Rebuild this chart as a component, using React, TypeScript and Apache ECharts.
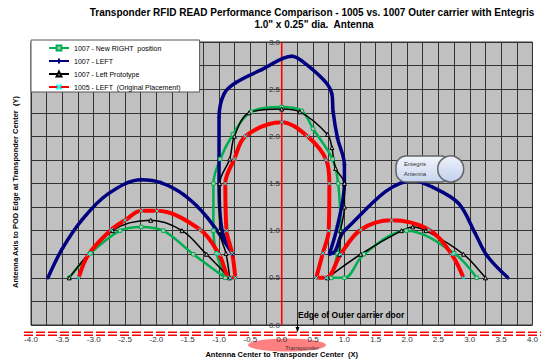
import React, { useEffect, useRef } from "react";
import * as echarts from "echarts";

const FONT = '"Liberation Sans", Arial, sans-serif';

const seriesNames = [
  "1007 - New RIGHT  position",
  "1007 - LEFT",
  "1007 - Left Prototype",
  "1005 - LEFT  (Original Placement)",
];

const newRightPosition: [number, number][] = [
  [-3.39, 0.5], [-3.05, 0.76], [-2.58, 1.0], [-2.24, 1.04], [-1.89, 1.0], [-1.41, 0.75], [-0.9, 0.5],
  [-1.04, 0.76], [-1.09, 1.0], [-1.09, 1.5], [-0.98, 1.76], [-0.78, 2.02], [-0.49, 2.26], [0, 2.31],
  [0.32, 2.27], [0.5, 2.08], [0.81, 1.76], [0.9, 1.5], [0.94, 1.0], [0.89, 0.76], [0.79, 0.5],
  [1.0, 0.5], [1.31, 0.75], [1.99, 1.0], [2.75, 0.76], [3.11, 0.5],
];

const left1007: [number, number][] = [
  [-3.73, 0.5], [-3.5, 0.81], [-3.18, 1.12], [-2.77, 1.39], [-2.24, 1.54], [-1.93, 1.51], [-1.56, 1.38],
  [-1.2, 1.15], [-0.78, 0.75], [-0.95, 1.0], [-1.0, 1.5], [-1.0, 2.2], [-0.92, 2.45], [-0.73, 2.57],
  [-0.31, 2.71], [0.16, 2.85], [0.32, 2.8], [0.68, 2.59], [0.8, 2.45], [0.82, 2.26], [0.89, 1.98],
  [1.0, 1.7], [1.0, 1.5], [0.89, 1.05], [0.76, 0.75], [0.85, 0.78], [1.0, 1.0], [2.09, 1.53],
  [2.41, 1.46], [2.82, 1.29], [3.08, 0.98], [3.27, 0.74], [3.61, 0.5],
];

const leftPrototype: [number, number][] = [
  [-3.39, 0.5], [-2.7, 1.0], [-2.09, 1.11], [-1.59, 1.0], [-1.2, 0.75], [-0.83, 0.5], [-0.89, 0.76],
  [-0.99, 1.0], [-0.99, 1.5], [-0.83, 1.76], [-0.755, 2.0], [-0.52, 2.25], [0, 2.29], [0.29, 2.26],
  [0.73, 2.02], [0.8, 1.88], [0.86, 1.66], [1.0, 1.5], [1.0, 1.25], [0.94, 1.0], [0.92, 0.75],
  [0.73, 0.5], [1.26, 0.75], [1.91, 1.0], [2.09, 1.04], [2.3, 1.0], [2.9, 0.75], [3.25, 0.5],
];

const originalPlacement: [number, number][] = [
  [-3.24, 0.5], [-3.08, 0.75], [-2.72, 1.01], [-2.5, 1.11], [-2.24, 1.21], [-1.99, 1.21], [-1.3, 1.01],
  [-1.0, 0.75], [-0.82, 0.5], [-0.74, 0.5], [-0.79, 0.76], [-0.88, 1.0], [-0.9, 1.5], [-0.755, 1.76],
  [-0.58, 2.0], [0, 2.15], [0.41, 2.0], [0.71, 1.75], [0.76, 1.5], [0.75, 1.0], [0.655, 0.76],
  [0.55, 0.5], [0.71, 0.5], [0.94, 0.75], [1.26, 1.01], [1.75, 1.11], [2.35, 1.01], [2.71, 0.75],
  [2.9, 0.5],
];

// vertical reference line at the transponder centre (x = 0)
const centerLine: [number, number][] = [[0, 0], [0, 3]];

const titleLines = [
  "Transponder RFID READ Performance Comparison - 1005 vs. 1007 Outer carrier with Entegris",
  '1.0" x 0.25" dia.  Antenna',
];

const xRange = [-4, 4];
const yRange = [0, 3];

const GRID_LEFT = 31;
const GRID_WIDTH = 510;

export default function App() {
  const ref = useRef<HTMLDivElement>(null);
  useEffect(() => {
    if (!ref.current) return;
    const chart = echarts.init(ref.current, undefined, { renderer: "svg" });
    const fmt = (v: number) => v.toFixed(1);
    const xPlus = "path://M5,0L5,10M0,5L10,5";
    const xCross = "path://M0,0L10,10M10,0L0,10";
    const yAxisOffset = -GRID_WIDTH * ((centerLine[0][0] - xRange[0]) / (xRange[1] - xRange[0]));
    const option: any = {
      animation: false,
      textStyle: { fontFamily: FONT },
      grid: {
        left: GRID_LEFT, right: 541 - GRID_LEFT - GRID_WIDTH, top: 42, bottom: 32,
        show: true, backgroundColor: "#c0c0c0", borderColor: "#333", borderWidth: 1,
      },
      xAxis: {
        type: "value", min: xRange[0], max: xRange[1], interval: 0.5, z: 1,
        axisLine: { show: false, onZero: false },
        axisTick: { show: false },
        axisLabel: { formatter: fmt, fontSize: 8, color: "#333", margin: 10, fontFamily: FONT },
        splitLine: { show: true, lineStyle: { color: "#333", width: 1 } },
        minorTick: { show: false, splitNumber: 2 },
        minorSplitLine: { show: true, lineStyle: { color: "#333", width: 1 } },
        name: "Antenna Center to Transponder Center  (X)",
        nameLocation: "middle", nameGap: 25,
        nameTextStyle: { fontSize: 7.5, fontWeight: "bold", color: "#000", fontFamily: FONT },
      },
      yAxis: {
        type: "value", min: yRange[0], max: yRange[1], interval: 0.5,
        position: "left", offset: yAxisOffset,
        axisLine: { show: false, onZero: false },
        axisTick: { show: false },
        axisLabel: { formatter: fmt, fontSize: 8, color: "#333", margin: 6, fontFamily: FONT },
        splitLine: { show: true, lineStyle: { color: "#333", width: 1 } },
        minorTick: { show: false, splitNumber: 2 },
        minorSplitLine: { show: true, lineStyle: { color: "#333", width: 1 } },
      },
      legend: {
        orient: "vertical", left: 31, top: 40,
        backgroundColor: "#fff", borderColor: "#555", borderWidth: 1,
        padding: [4.5, 19, 1.5, 17], itemWidth: 20, itemHeight: 6, itemGap: 6,
        textStyle: { fontSize: 7, color: "#000", fontFamily: FONT },
        data: seriesNames,
      },
      series: [
        {
          name: "x = 0", type: "line", data: centerLine, symbol: "none", silent: true,
          lineStyle: { color: "#ff0000", width: 1.6 }, itemStyle: { color: "#ff0000" },
        },
        {
          name: seriesNames[0], type: "line", data: newRightPosition, smooth: 0.35,
          symbol: "rect", symbolSize: 3.5,
          lineStyle: { color: "#00b050", width: 2.5 },
          itemStyle: { color: "#c0c0c0", borderColor: "#00b050", borderWidth: 1 },
        },
        {
          name: seriesNames[1], type: "line", data: left1007, smooth: 0.35,
          symbol: xPlus, symbolSize: 4,
          lineStyle: { color: "#000080", width: 3.5 },
          itemStyle: { color: "#000080", borderColor: "#000080", borderWidth: 1 },
        },
        {
          name: seriesNames[2], type: "line", data: leftPrototype, smooth: 0.35,
          symbol: "triangle", symbolSize: 4,
          lineStyle: { color: "#000000", width: 1.5 },
          itemStyle: { color: "#c0c0c0", borderColor: "#000000", borderWidth: 1 },
        },
        {
          name: seriesNames[3], type: "line", data: originalPlacement, smooth: 0.35,
          symbol: xCross, symbolSize: 4,
          lineStyle: { color: "#ff0000", width: 4 },
          itemStyle: { color: "#00ffff", borderColor: "#00ffff", borderWidth: 1 },
        },
      ],
      graphic: [
        {
          type: "text", x: 312, y: 12,
          style: { text: titleLines[0], fontSize: 10, fontWeight: "bold", fontFamily: FONT, fill: "#000", align: "center", verticalAlign: "middle" },
        },
        {
          type: "text", x: 314, y: 24,
          style: { text: titleLines[1], fontSize: 10, fontWeight: "bold", fontFamily: FONT, fill: "#000", align: "center", verticalAlign: "middle" },
        },
        {
          type: "text", x: 15, y: 192, rotation: Math.PI / 2,
          style: { text: "Antenna Axis to POD Edge at Transponder Center  (Y)", fontSize: 7.5, fontWeight: "bold", fontFamily: FONT, fill: "#000", align: "center", verticalAlign: "middle" },
        },
        {
          type: "line", shape: { x1: 24, y1: 332.3, x2: 541, y2: 332.3 },
          style: { stroke: "#ff0000", lineWidth: 1.5, lineDash: [9, 3] }, z: 10,
        },
        {
          type: "line", shape: { x1: 24, y1: 335.2, x2: 541, y2: 335.2 },
          style: { stroke: "#ff0000", lineWidth: 1.5, lineDash: [9, 3] }, z: 10,
        },
        {
          type: "ellipse", shape: { cx: 287, cy: 345, rx: 39, ry: 6.6 },
          style: { fill: "#ff8080" }, z: 0,
        },
        {
          type: "text", x: 302, y: 348, z: 11,
          style: { text: "Transponder", fontSize: 6, fontFamily: FONT, fill: "#333", align: "center", verticalAlign: "middle" },
        },
        {
          type: "text", x: 298, y: 314.5, z: 11,
          style: { text: "Edge of Outer carrier door", fontSize: 8.5, fontWeight: "bold", fontFamily: FONT, fill: "#000", align: "left", verticalAlign: "middle" },
        },
        {
          type: "line", shape: { x1: 297.5, y1: 320, x2: 297.5, y2: 328 },
          style: { stroke: "#000", lineWidth: 1 }, z: 11,
        },
        {
          type: "polygon", shape: { points: [[295.5, 327], [299.5, 327], [297.5, 332.5]] },
          style: { fill: "#000" }, z: 11,
        },
        {
          type: "rect", shape: { x: 396, y: 156, width: 55, height: 26, r: 10 },
          style: {
            fill: { type: "linear", x: 0, y: 0, x2: 0, y2: 1, colorStops: [{ offset: 0, color: "#f2f5fc" }, { offset: 1, color: "#c8d5ef" }] },
            stroke: "#666", lineWidth: 1.5,
          }, z: 20,
        },
        {
          type: "circle", shape: { cx: 450.7, cy: 169, r: 13 },
          style: {
            fill: { type: "linear", x: 0, y: 0, x2: 0, y2: 1, colorStops: [{ offset: 0, color: "#eef2fb" }, { offset: 1, color: "#c2d0ec" }] },
            stroke: "#666", lineWidth: 1.5,
          }, z: 21,
        },
        {
          type: "text", x: 415, y: 163.5, z: 22,
          style: { text: "Entegris", fontSize: 6, fontFamily: FONT, fill: "#333", align: "center", verticalAlign: "middle" },
        },
        {
          type: "text", x: 415, y: 173.5, z: 22,
          style: { text: "Antenna", fontSize: 6, fontFamily: FONT, fill: "#333", align: "center", verticalAlign: "middle" },
        },
      ],
    };
    chart.setOption(option);
    return () => chart.dispose();
  }, []);
  return (
    <div
      ref={ref}
      style={{ position: "fixed", left: 0, top: 0, width: 541, height: 363, background: "#fff" }}
    />
  );
}
